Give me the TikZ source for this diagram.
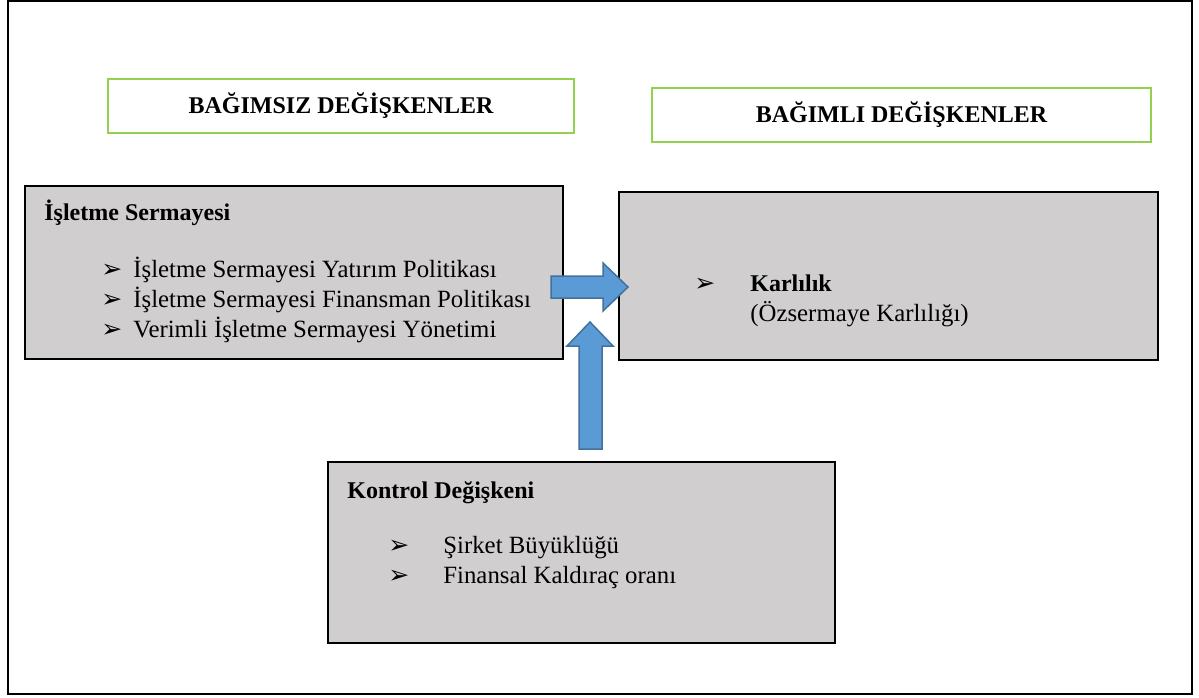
\documentclass[tikz,border=0pt]{standalone}
\usepackage{fontspec}
\setmainfont{Liberation Serif}
\newfontfamily\okfont{DejaVu Sans}
\usetikzlibrary{positioning}
\definecolor{kutugri}{HTML}{D0CECE}
\definecolor{yesil}{HTML}{92D050}
\definecolor{okmavi}{HTML}{5B9BD5}
\definecolor{okkenar}{HTML}{41719C}
\newcommand{\madde}{{\okfont\fontsize{12.5}{14}\selectfont ➢}}
\tikzset{
	baslik/.style={draw=yesil, line width=1pt, anchor=north west, font=\bfseries\fontsize{12}{14}\selectfont},
	kutu/.style={draw=black, line width=1pt, fill=kutugri, anchor=north west, inner sep=0pt},
	yazi/.style={anchor=base west, inner sep=0pt, font=\fontsize{12.4}{14}\selectfont},
	ok/.style={fill=okmavi, draw=okkenar, line width=0.75pt, line join=miter}
}
\begin{document}
\begin{tikzpicture}[x=0.5pt,y=-0.5pt]
		\useasboundingbox (0,0) rectangle (1199,697);
		% Dis cerceve
		\draw [line width=1pt] (8,1) rectangle (1192,694);
		% Basliklar
		\node [baslik, minimum width=233pt, minimum height=27pt] (bagimsiz) at (107,78) {BAĞIMSIZ DEĞİŞKENLER};
		\node [baslik, minimum width=249.5pt, minimum height=27pt] (bagimli) at (651,87) {BAĞIMLI DEĞİŞKENLER};
		% Kutular
		\node [kutu, minimum width=269pt, minimum height=86.5pt] (isletme) at (24,185) {};
		\node [kutu, minimum width=269.5pt, minimum height=84pt] (karlilik) at (618,191) {};
		\node [kutu, minimum width=253.5pt, minimum height=90.5pt] (kontrol) at (327,461) {};
		% Isletme Sermayesi
		\node [yazi, font=\bfseries\fontsize{12}{14}\selectfont] (isbaslik) at (44,220) {İşletme Sermayesi};
		\node [yazi] (ism1) at (101,277) {\madde};
		\node [yazi] (is1) at (133,277) {İşletme Sermayesi Yatırım Politikası};
		\node [yazi] (ism2) at (101,307) {\madde};
		\node [yazi] (is2) at (133,307) {İşletme Sermayesi Finansman Politikası};
		\node [yazi] (ism3) at (101,337) {\madde};
		\node [yazi] (is3) at (133,337) {Verimli İşletme Sermayesi Yönetimi};
		% Karlilik
		\node [yazi] (km1) at (694,291) {\madde};
		\node [yazi, font=\bfseries\fontsize{12}{14}\selectfont] (k1) at (750,291) {Karlılık};
		\node [yazi] (k2) at (750,321) {(Özsermaye Karlılığı)};
		% Kontrol Degiskeni
		\node [yazi, font=\bfseries\fontsize{12}{14}\selectfont] (kbaslik) at (347,498) {Kontrol Değişkeni};
		\node [yazi] (kom1) at (388,553) {\madde};
		\node [yazi] (ko1) at (443,553) {Şirket Büyüklüğü};
		\node [yazi] (kom2) at (388,583) {\madde};
		\node [yazi] (ko2) at (443,583) {Finansal Kaldıraç oranı};
		% Oklar
		\draw [ok] (551,276) -- (603,276) -- (603,263) -- (628,287) -- (603,311) -- (603,298) -- (551,298) -- cycle;
		\draw [ok] (579,449) -- (579,346) -- (567,346) -- (590,322) -- (613,346) -- (602,346) -- (602,449) -- cycle;
		\end{tikzpicture}
\end{document}
